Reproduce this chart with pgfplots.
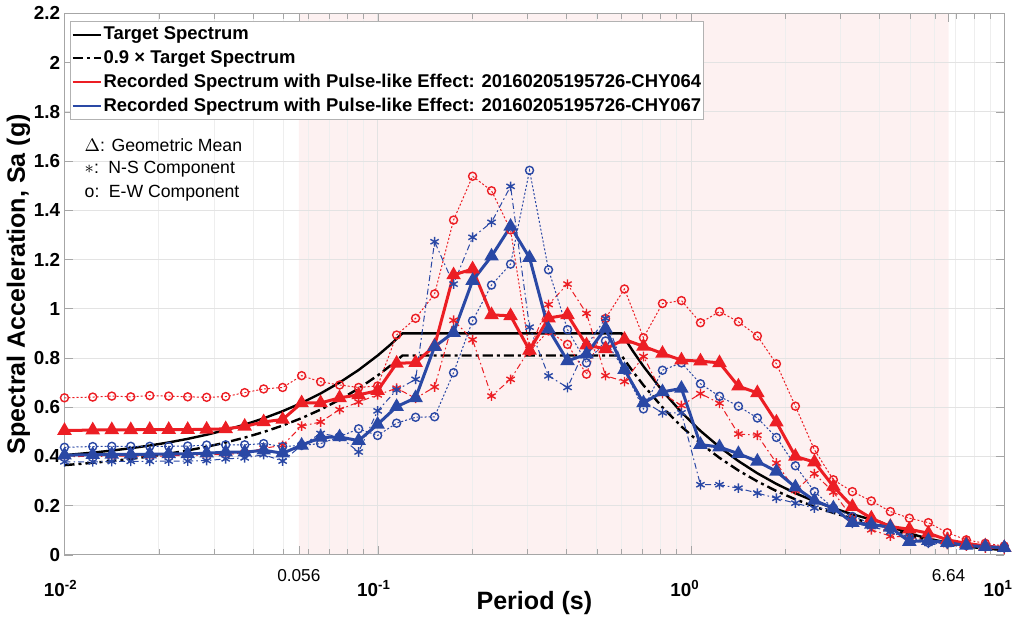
\documentclass[border=0pt]{standalone}
\usepackage{pgfplots}
\pgfplotsset{compat=1.18}
\usepackage{pgfplotstable}
\usepackage{fontspec}
\setmainfont{Liberation Sans}

\definecolor{recred}{RGB}{236,30,36}
\definecolor{recblue}{RGB}{42,72,165}
\definecolor{band}{RGB}{253,241,241}

% periods (s); rg/bg = geometric mean, rn/bn = N-S, re/be = E-W
\pgfplotstableread{
T rg rn re bg bn be
0.01 0.505 0.398 0.638 0.405 0.378 0.437
0.01231 0.507 0.401 0.641 0.407 0.378 0.440
0.01416 0.508 0.400 0.645 0.408 0.379 0.441
0.01628 0.508 0.402 0.642 0.408 0.380 0.441
0.01872 0.509 0.400 0.647 0.409 0.380 0.441
0.02152 0.509 0.402 0.645 0.410 0.381 0.441
0.02474 0.509 0.404 0.642 0.410 0.381 0.442
0.02844 0.510 0.406 0.640 0.413 0.383 0.446
0.03271 0.512 0.408 0.643 0.417 0.390 0.447
0.03761 0.522 0.414 0.659 0.417 0.394 0.447
0.04324 0.540 0.433 0.674 0.425 0.407 0.452
0.04971 0.550 0.445 0.680 0.413 0.381 0.440
0.05716 0.617 0.523 0.728 0.445 0.445 0.445
0.06573 0.617 0.540 0.703 0.477 0.493 0.452
0.07557 0.638 0.590 0.690 0.479 0.480 0.480
0.08689 0.650 0.621 0.680 0.464 0.418 0.512
0.09991 0.667 0.650 0.686 0.530 0.585 0.485
0.1149 0.778 0.677 0.893 0.602 0.670 0.535
0.1321 0.781 0.636 0.961 0.638 0.713 0.559
0.1519 0.849 0.682 1.060 0.846 1.272 0.561
0.1746 1.137 0.953 1.360 0.903 1.100 0.740
0.2008 1.161 0.874 1.538 1.114 1.290 0.951
0.2308 0.975 0.645 1.479 1.213 1.351 1.096
0.2655 0.971 0.713 1.320 1.334 1.497 1.181
0.3052 0.831 0.835 0.827 1.207 0.925 1.562
0.3509 0.962 1.017 0.910 0.917 0.727 1.158
0.4035 0.975 1.100 0.855 0.788 0.680 0.915
0.4639 0.852 0.981 0.734 0.815 0.849 0.780
0.5334 0.837 0.728 0.960 0.920 0.961 0.869
0.6133 0.875 0.704 1.080 0.752 0.753 0.751
0.7052 0.847 0.806 0.882 0.617 0.624 0.593
0.8109 0.818 0.655 1.021 0.662 0.577 0.750
0.9322 0.791 0.607 1.033 0.676 0.577 0.780
1.072 0.787 0.655 0.943 0.448 0.285 0.695
1.233 0.780 0.616 0.988 0.438 0.285 0.644
1.417 0.685 0.491 0.947 0.411 0.271 0.604
1.629 0.658 0.486 0.889 0.380 0.251 0.556
1.874 0.539 0.373 0.776 0.339 0.230 0.477
2.154 0.400 0.262 0.604 0.275 0.210 0.362
2.477 0.377 0.330 0.427 0.221 0.190 0.257
2.848 0.278 0.255 0.305 0.190 0.186 0.190
3.274 0.196 0.150 0.257 0.131 0.128 0.156
3.765 0.149 0.102 0.219 0.124 0.115 0.128
4.329 0.115 0.076 0.176 0.112 0.094 0.104
4.977 0.104 0.072 0.149 0.054 0.061 0.071
5.723 0.088 0.059 0.131 0.058 0.047 0.050
6.580 0.061 0.042 0.090 0.050 0.044 0.047
7.566 0.047 0.036 0.061 0.038 0.040 0.038
8.699 0.036 0.028 0.047 0.033 0.033 0.036
10 0.029 0.023 0.036 0.029 0.029 0.029
}\spectra

% target spectrum and 0.9 x target
\pgfplotstableread{
T sa sb
0.01 0.405 0.3645
0.01231 0.4154 0.3739
0.01416 0.4237 0.3813
0.01628 0.4333 0.3900
0.01872 0.4442 0.3998
0.02152 0.4568 0.4111
0.02474 0.4713 0.4242
0.02844 0.4880 0.4392
0.03271 0.5072 0.4565
0.03761 0.5292 0.4763
0.04324 0.5546 0.4991
0.04971 0.5837 0.5253
0.05716 0.6172 0.5555
0.06573 0.6558 0.5902
0.07557 0.7001 0.6301
0.08689 0.7510 0.6759
0.09991 0.8096 0.7286
0.11 0.855 0.7695
0.12 0.90 0.81
0.6 0.90 0.81
0.65 0.8308 0.7477
0.7052 0.7657 0.6891
0.8109 0.6659 0.5993
0.9322 0.5793 0.5214
1.072 0.5037 0.4533
1.233 0.4380 0.3942
1.417 0.3811 0.3430
1.629 0.3315 0.2984
1.874 0.2882 0.2594
2.154 0.2507 0.2256
2.477 0.2180 0.1962
2.848 0.1896 0.1706
3.274 0.1649 0.1484
3.765 0.1434 0.1291
4.0 0.135 0.1215
4.329 0.1153 0.1038
4.977 0.0872 0.0785
5.723 0.0660 0.0594
6.580 0.0499 0.0449
7.566 0.0377 0.0339
8.699 0.0285 0.0257
10 0.0216 0.0194
}\target

\newcommand{\pw}[1]{\makebox[0pt][r]{10}\textsuperscript{#1}}

\begin{document}
\begin{tikzpicture}
\begin{axis}[
  set layers,
  scale only axis, width=468.5pt, height=270pt,
  xmode=log, xmin=0.01, xmax=10, ymin=0, ymax=2.2,
  xtick={0.01,0.1,1,10},
  xticklabels={\pw{-2},\pw{-1},\pw{0},\pw{1}\hspace{2.5pt}},
  xticklabel style={anchor=north west, inner xsep=0pt, yshift=-9pt},
  extra x ticks={0.056,6.64},
  extra x tick labels={0.056,6.64},
  extra x tick style={grid=none, xticklabel style={anchor=north, inner xsep=2pt, font=\fontsize{8.6}{10}\selectfont, yshift=5.5pt}},
  ytick={0,0.2,0.4,0.6,0.8,1,1.2,1.4,1.6,1.8,2,2.2},
  yticklabel style={/pgf/number format/fixed, /pgf/number format/precision=1, inner xsep=2pt},
  /pgf/number format/assume math mode=true,
  tick label style={font=\fontsize{9.4}{11}\selectfont\bfseries},
  label style={font=\fontsize{12.5}{14}\selectfont\bfseries},
  xlabel={Period (s)}, ylabel={Spectral Acceleration, Sa (g)},
  xlabel style={at={(axis description cs:0.5,-0.089)}, anchor=center},
  ylabel style={at={(axis description cs:-0.049,0.5)}, anchor=center},
  grid=both, major grid style={gray!22}, minor grid style={gray!13},
  axis line style={gray!70}, tick style={gray!70},
  legend style={at={(rel axis cs:0.006,0.985)}, anchor=north west, draw=gray!60,
    font=\fontsize{9.2}{11}\selectfont\bfseries, inner xsep=0.5pt, inner ysep=1pt,
    row sep=0.8pt, nodes={inner xsep=0.8pt, inner ysep=1.5pt}, cells={anchor=west}},
  legend image code/.code={\draw[#1] (0pt,0pt) -- (14pt,0pt);},
]
\addplot[fill=band, draw=none, forget plot, on layer=axis background]
  coordinates {(0.056,0) (0.056,2.2) (6.64,2.2) (6.64,0)} \closedcycle;

\addplot[black, line width=1.2pt] table[x=T, y=sa] {\target};
\addplot[black, line width=1.2pt, dash pattern=on 5pt off 2pt on 1.5pt off 2pt] table[x=T, y=sb] {\target};
\addlegendimage{draw=recred, line width=0.9pt}
\addlegendimage{draw=recblue, line width=0.9pt}
\legend{Target Spectrum, 0.9 × Target Spectrum,
  Recorded Spectrum with Pulse-like Effect: 20160205195726-CHY064,
  Recorded Spectrum with Pulse-like Effect: 20160205195726-CHY067}

\addplot[recred, line width=0.5pt, dash pattern=on 1pt off 1pt, mark=o, mark size=2pt, mark options={solid, line width=0.7pt}, forget plot] table[x=T, y=re] {\spectra};
\addplot[recred, line width=0.5pt, dash pattern=on 3pt off 1.5pt on 0.8pt off 1.5pt, mark=asterisk, mark size=2.4pt, mark options={solid, line width=0.7pt}, forget plot] table[x=T, y=rn] {\spectra};
\addplot[recblue, line width=0.5pt, dash pattern=on 1pt off 1pt, mark=o, mark size=2pt, mark options={solid, line width=0.7pt}, forget plot] table[x=T, y=be] {\spectra};
\addplot[recblue, line width=0.5pt, dash pattern=on 3pt off 1.5pt on 0.8pt off 1.5pt, mark=asterisk, mark size=2.4pt, mark options={solid, line width=0.7pt}, forget plot] table[x=T, y=bn] {\spectra};
\addplot[recred, line width=1.5pt, mark=triangle*, mark size=2.7pt, mark options={solid}, forget plot] table[x=T, y=rg] {\spectra};
\addplot[recblue, line width=1.5pt, mark=triangle*, mark size=2.7pt, mark options={solid}, forget plot] table[x=T, y=bg] {\spectra};

\node[anchor=west, font=\fontsize{8.8}{10}\selectfont] at (rel axis cs:0.014,0.757) {$\Delta$: Geometric Mean};
\node[anchor=west, font=\fontsize{8.8}{10}\selectfont] at (rel axis cs:0.014,0.713) {$\ast$:\, N-S Component};
\node[anchor=west, font=\fontsize{8.8}{10}\selectfont] at (rel axis cs:0.014,0.668) {o:\, E-W Component};
\end{axis}
\end{tikzpicture}
\end{document}
